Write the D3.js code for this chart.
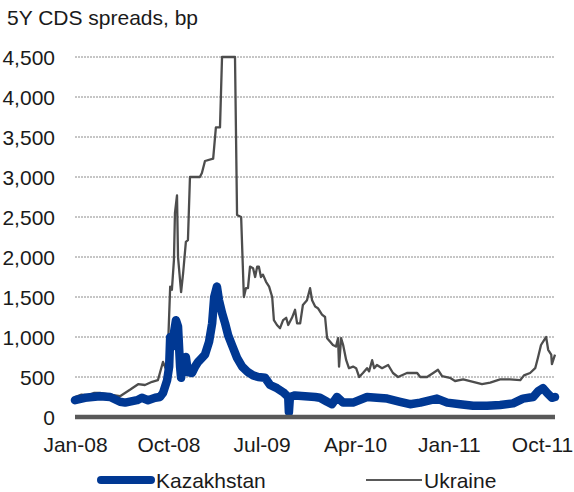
<!DOCTYPE html>
<html><head><meta charset="utf-8">
<script src="https://cdn.jsdelivr.net/npm/d3@7"></script>
<style>
html,body{margin:0;padding:0;background:#fff;}
svg text{font-family:"Liberation Sans",Arial,sans-serif;fill:#1a1a1a;}
</style></head>
<body><svg id="c" width="574" height="492"></svg>
<script>
const title = "5Y CDS spreads, bp";
const seriesNames = ["Kazakhstan", "Ukraine"];
const yTicks = [0,500,1000,1500,2000,2500,3000,3500,4000,4500];
const xTickDates = ["2008-01-01","2008-10-01","2009-07-01","2010-04-01","2011-01-01","2011-10-01"];
const xDomain = ["2008-01-01","2011-11-08"];

const ukraineDates = ["2008-01-01","2008-01-20","2008-02-08","2008-02-25","2008-03-14","2008-04-13","2008-05-12","2008-06-10","2008-07-04","2008-07-24","2008-08-14","2008-08-31","2008-09-15","2008-09-27","2008-10-06","2008-10-11","2008-10-17","2008-10-20","2008-10-26","2008-10-29","2008-11-07","2008-11-13","2008-11-21","2008-11-27","2008-12-03","2009-01-01","2009-01-07","2009-01-16","2009-02-09","2009-02-17","2009-03-01","2009-03-07","2009-04-14","2009-04-20","2009-05-02","2009-05-10","2009-05-16","2009-05-22","2009-05-28","2009-06-06","2009-06-12","2009-06-18","2009-06-23","2009-06-29","2009-07-05","2009-07-14","2009-07-23","2009-08-01","2009-08-06","2009-08-15","2009-08-24","2009-09-02","2009-09-11","2009-09-17","2009-09-28","2009-10-07","2009-10-13","2009-10-22","2009-10-30","2009-11-11","2009-11-20","2009-11-26","2009-12-05","2009-12-13","2009-12-25","2010-01-03","2010-01-09","2010-01-18","2010-01-26","2010-02-04","2010-02-10","2010-02-13","2010-02-19","2010-02-25","2010-03-06","2010-03-14","2010-03-26","2010-04-04","2010-04-13","2010-04-24","2010-05-06","2010-05-12","2010-05-21","2010-05-27","2010-06-04","2010-06-19","2010-07-07","2010-07-21","2010-08-05","2010-08-31","2010-09-30","2010-10-09","2010-10-29","2010-11-16","2010-11-30","2010-12-12","2011-01-04","2011-01-19","2011-02-12","2011-03-13","2011-04-08","2011-05-02","2011-05-31","2011-06-29","2011-07-29","2011-08-09","2011-08-27","2011-09-11","2011-09-19","2011-09-28","2011-10-07","2011-10-13","2011-10-19","2011-10-28","2011-10-30","2011-11-08"];
const ukraineValues = [250,280,270,300,300,280,260,340,410,400,440,460,690,560,1630,1590,1960,2550,2770,2000,1560,1800,2190,2210,3000,3000,3050,3200,3230,3620,3620,4500,4500,2525,2500,1500,1610,1610,1880,1860,1750,1880,1880,1750,1780,1690,1630,1500,1210,1150,1110,1210,1240,1150,1240,1340,1170,1170,1400,1460,1610,1460,1380,1360,1280,1250,985,940,900,880,985,630,985,900,710,610,630,610,500,550,610,570,710,610,650,610,650,550,500,550,550,500,500,550,590,510,490,450,470,440,410,430,470,470,460,520,550,610,740,900,960,1000,840,780,660,780];

const kazDates = ["2008-01-01","2008-01-30","2008-03-14","2008-04-13","2008-05-12","2008-05-27","2008-07-01","2008-07-15","2008-08-02","2008-08-23","2008-09-06","2008-09-15","2008-09-27","2008-10-03","2008-10-06","2008-10-11","2008-10-17","2008-10-23","2008-10-29","2008-11-04","2008-11-07","2008-11-13","2008-11-21","2008-11-27","2008-12-09","2008-12-18","2008-12-27","2009-01-01","2009-01-16","2009-01-28","2009-02-06","2009-02-12","2009-02-20","2009-02-26","2009-03-07","2009-03-16","2009-03-25","2009-04-05","2009-04-20","2009-05-05","2009-05-22","2009-06-06","2009-06-21","2009-07-11","2009-07-26","2009-08-15","2009-09-02","2009-09-17","2009-09-19","2009-09-22","2009-10-07","2009-11-05","2009-12-05","2009-12-19","2010-01-09","2010-01-23","2010-02-07","2010-02-25","2010-03-26","2010-05-06","2010-06-04","2010-07-04","2010-08-11","2010-09-09","2010-10-09","2010-11-27","2010-12-27","2011-02-03","2011-03-13","2011-04-23","2011-05-31","2011-07-08","2011-08-06","2011-09-05","2011-09-19","2011-10-04","2011-10-16","2011-10-30","2011-11-08"];
const kazValues = [210,240,260,250,190,180,210,240,210,240,250,300,460,630,1000,880,1050,1210,1130,630,490,710,750,560,550,630,690,710,780,940,1170,1500,1630,1460,1300,1170,1020,900,740,630,560,520,500,490,400,360,310,250,60,250,270,260,250,240,190,160,250,180,180,250,240,230,190,160,180,230,180,160,140,140,150,170,230,250,320,360,300,240,250];

const parse = d3.timeParse("%Y-%m-%d");
const svg = d3.select("#c");
const x = d3.scaleTime().domain(xDomain.map(parse)).range([75, 555]);
const y = d3.scaleLinear().domain([0, 4500]).range([417, 57]);

svg.append("text").attr("x", 7).attr("y", 25).attr("font-size", 21).text(title);

// gridlines
svg.append("g").selectAll("line").data(yTicks.filter(d => d > 0)).join("line")
  .attr("x1", 75).attr("x2", 555).attr("y1", d => y(d)).attr("y2", d => y(d))
  .attr("stroke", "#8c8c8c").attr("stroke-width", 1).attr("stroke-dasharray", "2,1");

// y axis labels
const yAxis = d3.axisLeft(y).tickValues(yTicks).tickFormat(d3.format(",")).tickSize(0).tickPadding(0);
const gy = svg.append("g").attr("transform", "translate(55,0)").call(yAxis);
gy.select(".domain").remove();
gy.selectAll("text").attr("font-size", 21).attr("fill", "#1a1a1a").attr("font-family", "Liberation Sans, Arial, sans-serif").attr("dy", "0.36em");

// x axis labels
const xAxis = d3.axisBottom(x).tickValues(xTickDates.map(parse)).tickFormat(d3.timeFormat("%b-%y")).tickSize(0).tickPadding(0);
const gx = svg.append("g").attr("transform", "translate(0,417)").call(xAxis);
gx.select(".domain").remove();
gx.selectAll("text").attr("font-size", 21).attr("fill", "#1a1a1a").attr("font-family", "Liberation Sans, Arial, sans-serif").attr("dy", null).attr("y", 35);

const line = d3.line().x(d => x(d[0])).y(d => y(d[1]));
const uk = ukraineDates.map((d, i) => [parse(d), ukraineValues[i]]);
const kz = kazDates.map((d, i) => [parse(d), kazValues[i]]);

svg.append("path").datum(uk).attr("d", line).attr("fill", "none")
  .attr("stroke", "#4d4d4d").attr("stroke-width", 2.3).attr("stroke-linejoin", "round");
svg.append("path").datum(kz).attr("d", line).attr("fill", "none")
  .attr("stroke", "#003893").attr("stroke-width", 8.5).attr("stroke-linejoin", "round").attr("stroke-linecap", "round");

// zero axis line
svg.append("line").attr("x1", 75).attr("x2", 555).attr("y1", y(0)).attr("y2", y(0))
  .attr("stroke", "#595959").attr("stroke-width", 4.5);

// legend
const lg = svg.append("g");
lg.append("line").attr("x1", 101).attr("x2", 151).attr("y1", 480).attr("y2", 480)
  .attr("stroke", "#003893").attr("stroke-width", 8).attr("stroke-linecap", "round");
lg.append("text").attr("x", 156).attr("y", 488).attr("font-size", 21).text(seriesNames[0]);
lg.append("line").attr("x1", 366).attr("x2", 422).attr("y1", 480).attr("y2", 480)
  .attr("stroke", "#595959").attr("stroke-width", 2);
lg.append("text").attr("x", 424).attr("y", 488).attr("font-size", 21).text(seriesNames[1]);
</script></body></html>
